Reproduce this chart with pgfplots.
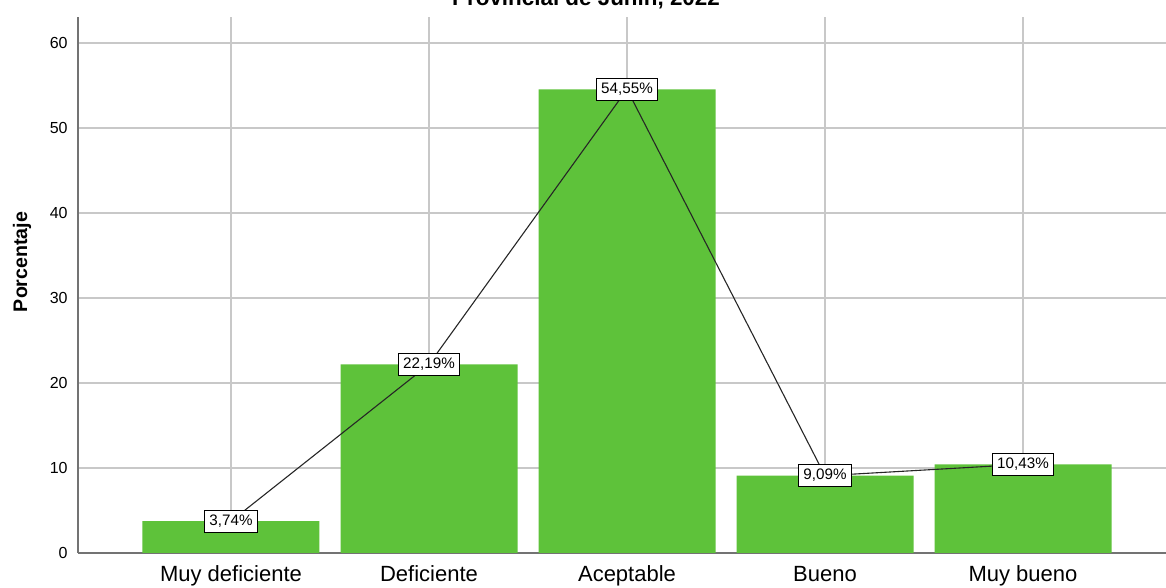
\documentclass[border=0pt]{standalone}
\usepackage{pgfplots}
\pgfplotsset{compat=1.18}
\usepackage{fontspec}
\setmainfont{Liberation Sans}
\definecolor{bargreen}{RGB}{94,194,58}
\definecolor{gridgray}{RGB}{200,200,200}
\pgfplotsset{/pgf/number format/assume math mode=true}

\begin{document}
\begin{tikzpicture}
\useasboundingbox (0,0) rectangle (583pt,294pt);
% title, only its lower part falls inside the page
\node[anchor=base, font=\bfseries\fontsize{11.2pt}{13pt}\selectfont] at (293pt,291pt) {Provincial de Junín, 2022};
\begin{axis}[
  at={(39pt,17.5pt)}, anchor=south west,
  scale only axis, width=544pt, height=268pt,
  xmin=-0.7727, xmax=4.7222, ymin=0, ymax=63.06,
  axis x line*=bottom, axis y line*=left,
  axis line style={-, black!55, line width=0.6pt},
  xtick={0,1,2,3,4},
  xticklabels={Muy deficiente, Deficiente, Aceptable, Bueno, Muy bueno},
  ytick={0,10,...,60},
  major tick length=0pt,
  grid=major,
  major grid style={gridgray, line width=0.6pt},
  xticklabel style={font=\fontsize{11pt}{13pt}\selectfont, anchor=base, yshift=-14.5pt, inner sep=0pt},
  yticklabel style={font=\fontsize{8pt}{9pt}\selectfont, anchor=east, inner sep=0pt, xshift=-5pt},
  ylabel={Porcentaje},
  every axis y label/.style={at={(axis description cs:-0.0515,0.543)}, rotate=90, anchor=center, font=\bfseries\fontsize{9.8pt}{11pt}\selectfont},
  clip=false,
]
\addplot[ybar, bar width=88.5pt, fill=bargreen, draw=none]
  coordinates {(0,3.74) (1,22.19) (2,54.55) (3,9.09) (4,10.43)};
\addplot[black!85, line width=0.55pt, mark=none,
  nodes near coords={\pgfmathprintnumber[fixed, fixed zerofill, precision=2, use comma]{\pgfplotspointmeta}\%},
  nodes near coords style={anchor=center, draw=black, line width=0.55pt, fill=white,
    inner xsep=2.3pt, inner ysep=2pt, text height=5.6pt, text depth=1.4pt,
    font=\fontsize{7.6pt}{8pt}\selectfont, text=black}]
  coordinates {(0,3.74) (1,22.19) (2,54.55) (3,9.09) (4,10.43)};
\end{axis}
\end{tikzpicture}
\end{document}
